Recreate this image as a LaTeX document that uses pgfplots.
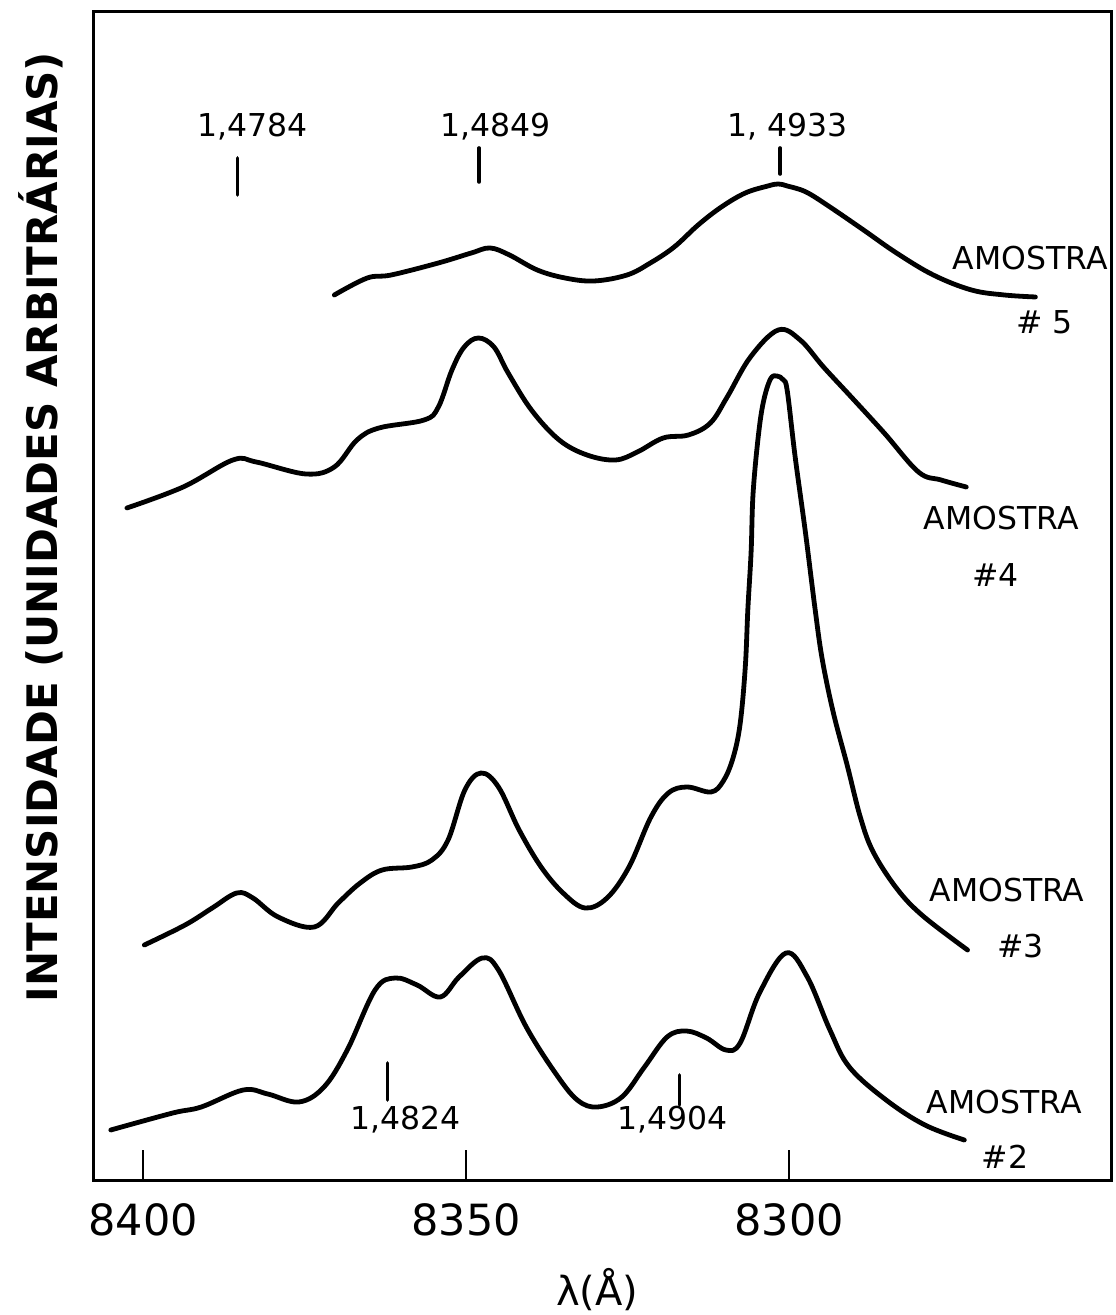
\documentclass[border=0pt]{standalone}
\usepackage{fontspec}
\setmainfont{DejaVu Sans}
\usepackage{pgfplots}
\pgfplotsset{compat=1.18}

\tikzset{
  lbl/.style={font=\fontsize{15.75}{18}\selectfont, anchor=center, inner sep=0pt},
  lineposition/.style={line width=1.8pt, sharp plot},
}

% Emission spectra of samples #2 to #5, offset vertically (arbitrary units)
\begin{document}
\begin{tikzpicture}
\path[use as bounding box] (-47pt,-67.5pt) rectangle (510.5pt,590pt);
\begin{axis}[
  at={(0pt,0pt)}, anchor=south west,
  scale only axis, width=508.5pt, height=584pt,
  x dir=reverse, xmin=8250.2, xmax=8407.6, ymin=0, ymax=1168,
  axis line style={line width=1.5pt},
  xtick={8400,8350,8300}, xticklabels={8400,8350,8300},
  xtick pos=bottom, tick align=inside, major tick length=15pt,
  xtick style={line width=1pt, black},
  ytick=\empty,
  xticklabel style={font=\fontsize{21.5}{25}\selectfont, yshift=-8.5pt},
  clip=false,
  cycle list={{black}},
  every axis plot/.append style={black, line width=2.4pt, smooth, tension=0.6,
    line cap=round, line join=round, no markers},
]
% AMOSTRA #5
\addplot coordinates {(8370.4,885) (8365.3,902) (8361.6,905) (8354.3,917)
  (8349.2,927) (8346.3,932) (8343.3,925) (8339.0,910) (8334.7,902) (8330.2,899)
  (8325.1,905) (8321.5,917) (8317.8,933) (8314.1,955) (8310.5,973) (8306.8,987)
  (8303.3,994) (8301.7,996) (8300.3,994) (8297.4,988) (8293.7,973) (8288.5,950)
  (8283.4,927) (8277.7,905) (8271.8,890) (8266.7,885) (8261.9,883)};
% AMOSTRA #4
\addplot coordinates {(8402.5,672) (8393.8,693) (8386.1,720) (8382.5,718)
  (8374.8,706) (8370.4,713) (8366.9,740) (8363.5,752) (8356.5,760) (8354.3,773)
  (8352.2,810) (8350.3,833) (8348.1,842) (8345.7,833) (8343.5,807) (8339.9,770)
  (8335.6,740) (8331.3,725) (8326.9,720) (8323.5,728) (8319.5,742) (8315.6,745)
  (8312.2,757) (8309.6,783) (8306.0,823) (8301.7,850) (8298.3,840) (8294.7,813)
  (8290.4,783) (8285.3,747) (8280.0,708) (8276.5,700) (8272.6,693)};
% AMOSTRA #3
\addplot coordinates {(8399.8,235) (8393.5,255) (8389.3,272) (8385.5,287)
  (8383.0,282) (8379.1,263) (8373.5,253) (8369.8,277) (8366.4,297) (8363.0,310)
  (8358.4,313) (8355.3,320) (8352.8,340) (8350.2,390) (8347.7,407) (8345.0,393)
  (8341.8,350) (8338.4,313) (8335.0,287) (8331.6,272) (8328.2,282) (8324.8,313)
  (8321.4,363) (8318.7,387) (8315.8,393) (8312.1,388) (8310.2,399) (8308.7,422)
  (8307.6,456) (8306.8,513) (8306.4,571) (8305.9,628) (8305.6,686) (8304.8,743)
  (8304.0,778) (8302.9,801) (8301.9,804) (8300.9,800) (8300.3,789) (8299.1,724)
  (8297.5,648) (8296.0,571) (8294.9,521) (8293.2,468) (8291.0,414) (8289.0,363)
  (8287.0,328) (8283.3,291) (8279.3,264) (8272.4,230)};
% AMOSTRA #2
\addplot coordinates {(8405.0,50) (8395.4,67) (8391.0,73) (8384.5,90)
  (8380.7,86) (8375.9,78) (8372.0,93) (8368.4,130) (8364.1,190) (8361.0,202)
  (8357.6,195) (8354.0,183) (8351.1,203) (8347.5,222) (8345.0,210) (8340.7,153)
  (8336.2,107) (8332.8,80) (8329.7,73) (8325.9,83) (8322.4,113) (8318.9,143)
  (8315.9,149) (8312.8,142) (8309.8,130) (8307.6,137) (8304.6,187) (8300.5,227)
  (8297.2,203) (8293.7,150) (8290.7,113) (8285.0,80) (8279.0,55) (8272.9,40)};

% line positions (refractive index)
\addplot[lineposition] coordinates {(8385.4,985) (8385.4,1022)};
\addplot[lineposition] coordinates {(8348.0,998) (8348.0,1032)};
\addplot[lineposition] coordinates {(8301.4,1006) (8301.4,1032)};
\addplot[lineposition] coordinates {(8362.2,80) (8362.2,117)};
\addplot[lineposition] coordinates {(8317.0,75) (8317.0,105)};
\node[lbl] at (axis cs:8383.0,1053) {1,4784};
\node[lbl] at (axis cs:8345.5,1053) {1,4849};
\node[lbl] at (axis cs:8300.2,1053) {1, 4933};
\node[lbl] at (axis cs:8359.4,60) {1,4824};
\node[lbl] at (axis cs:8318.0,60) {1,4904};

% sample labels
\node[lbl] at (axis cs:8262.7,922) {AMOSTRA};
\node[lbl] at (axis cs:8260.5,858) {\# 5};
\node[lbl] at (axis cs:8267.2,662) {AMOSTRA};
\node[lbl] at (axis cs:8268.1,605) {\#4};
\node[lbl] at (axis cs:8266.3,290) {AMOSTRA};
\node[lbl] at (axis cs:8264.2,234) {\#3};
\node[lbl] at (axis cs:8266.7,78) {AMOSTRA};
\node[lbl] at (axis cs:8266.6,23) {\#2};

% axis titles
\node[font=\fontsize{20}{24}\selectfont, anchor=center]
  at (axis description cs:0.495,-0.094) {λ(Å)};
\node[font=\bfseries\fontsize{21}{24}\selectfont, rotate=90, anchor=center]
  at (axis description cs:-0.052,0.559) {INTENSIDADE (UNIDADES ARBITRÁRIAS)};
\end{axis}
\end{tikzpicture}
\end{document}
